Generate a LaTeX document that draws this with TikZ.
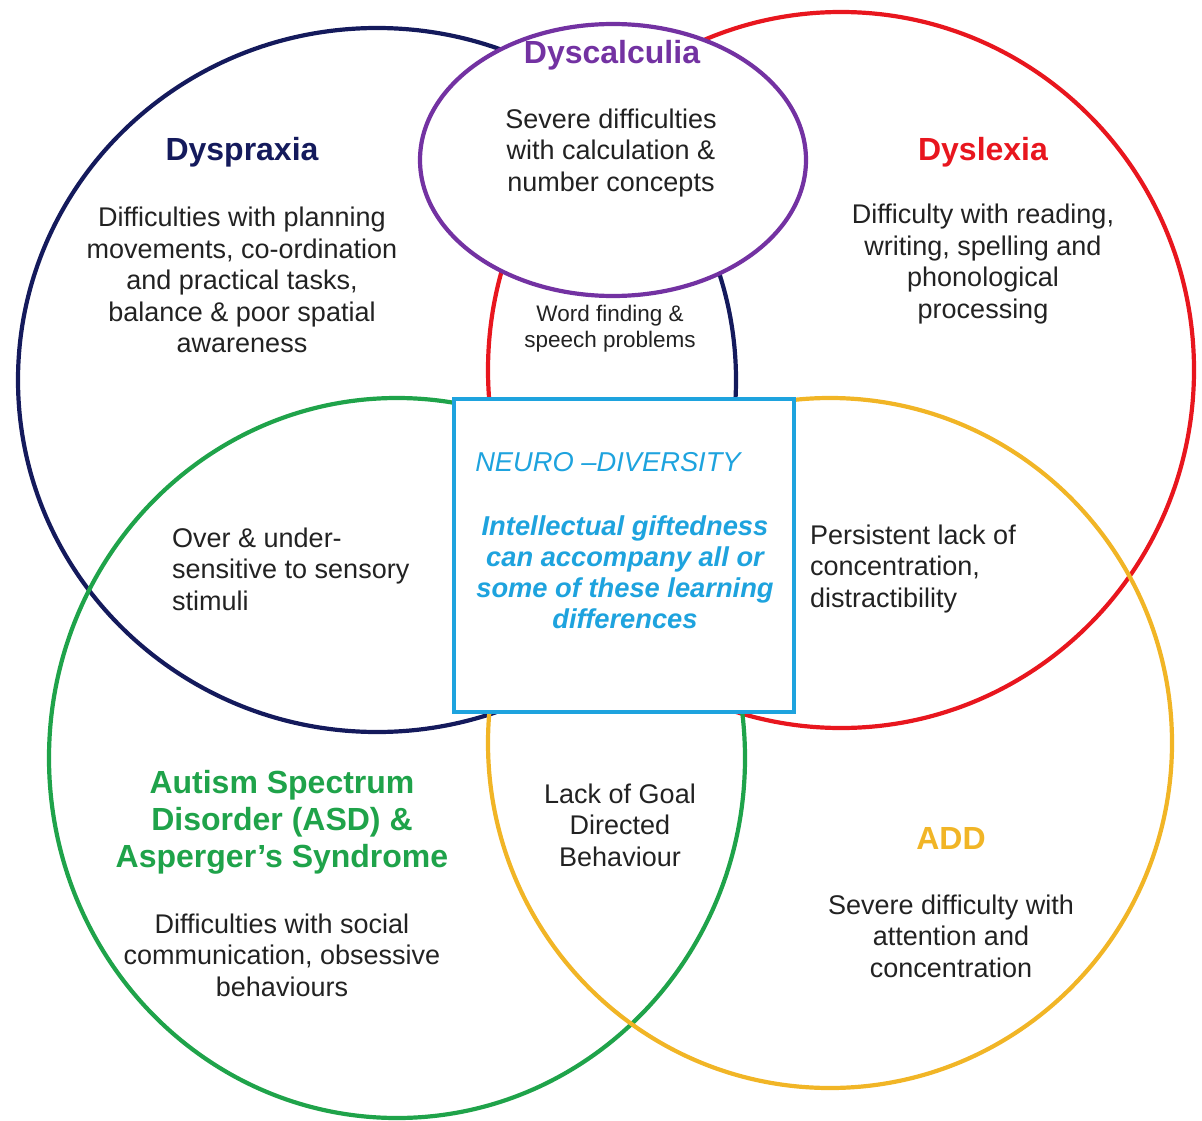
\documentclass[tikz,border=0pt]{standalone}
\usepackage{fontspec}
\setmainfont{Liberation Sans}

\definecolor{praxnavy}{HTML}{141A5C}
\definecolor{lexred}{HTML}{E8161E}
\definecolor{asdgreen}{HTML}{1FA34A}
\definecolor{addyellow}{HTML}{F1B526}
\definecolor{calcpurple}{HTML}{7332A2}
\definecolor{neuroblue}{HTML}{1EA3DE}
\definecolor{bodygray}{HTML}{222222}

\tikzset{
  ring/.style={line width=4.2pt},
  title/.style={font=\bfseries\fontsize{32}{37}\selectfont, inner sep=0pt, align=center},
  body/.style={font=\fontsize{27}{31.5}\selectfont, text=bodygray, inner sep=0pt, align=center},
}

\begin{document}
\begin{tikzpicture}[x=1pt,y=-1pt]

\useasboundingbox (0,0) rectangle (1202,1121);

% the four big rings
\draw[ring,praxnavy] (377,380) ellipse[x radius=359pt, y radius=352pt];
\draw[ring,lexred] (841,370) ellipse[x radius=353pt, y radius=358pt];
\draw[ring,asdgreen] (397,758) ellipse[x radius=348pt, y radius=360pt];
\draw[ring,addyellow] (830,743) ellipse[x radius=342pt, y radius=345pt];

% dyscalculia on top
\draw[ring,calcpurple,fill=white] (613,160) ellipse[x radius=193pt, y radius=136pt];

% centre box
\node (neuro) [draw=neuroblue, line width=4.5pt, fill=white, minimum width=340pt, minimum height=313pt, inner sep=0pt] at (624,555.5) {};

\node[title,text=calcpurple] (calctitle) at (612,55) {Dyscalculia};
\node[body] (calctext) at (611,153) {Severe difficulties\\with calculation \&\\number concepts};

\node[title,text=praxnavy] (praxtitle) at (242,152) {Dyspraxia};
\node[body] (praxtext) at (242,280) {Difficulties with planning\\movements, co-ordination\\and practical tasks,\\balance \& poor spatial\\awareness};

\node[title,text=lexred] (lextitle) at (983,152) {Dyslexia};
\node[body] (lextext) at (983,264) {Difficulty with reading,\\writing, spelling and\\phonological\\processing};

\node[body,font=\fontsize{22.5}{26}\selectfont] (wordtext) at (610,329) {Word finding \&\\speech problems};

\node[body,align=left,anchor=west] (sensetext) at (172,569) {Over \& under-\\sensitive to sensory\\stimuli};
\node[body,align=left,anchor=west] (attentext) at (810,569) {Persistent lack of\\concentration,\\distractibility};

\node[body,text=neuroblue,font=\itshape\fontsize{27.3}{31.5}\selectfont] (neurotitle) at (608,462) {NEURO --DIVERSITY};
\node[body,text=neuroblue,font=\bfseries\itshape\fontsize{27.3}{31}\selectfont] (neurotext) at (625,572) {Intellectual giftedness\\can accompany all or\\some of these learning\\differences};

\node[body] (goaltext) at (620,825) {Lack of Goal\\Directed\\Behaviour};

\node[title,text=asdgreen] (asdtitle) at (282,822) {Autism Spectrum\\Disorder (ASD) \&\\Asperger’s Syndrome};
\node[body] (asdtext) at (282,955) {Difficulties with social\\communication, obsessive\\behaviours};

\node[title,text=addyellow] (addtitle) at (951,838) {ADD};
\node[body] (addtext) at (951,936) {Severe difficulty with\\attention and\\concentration};

\end{tikzpicture}
\end{document}
